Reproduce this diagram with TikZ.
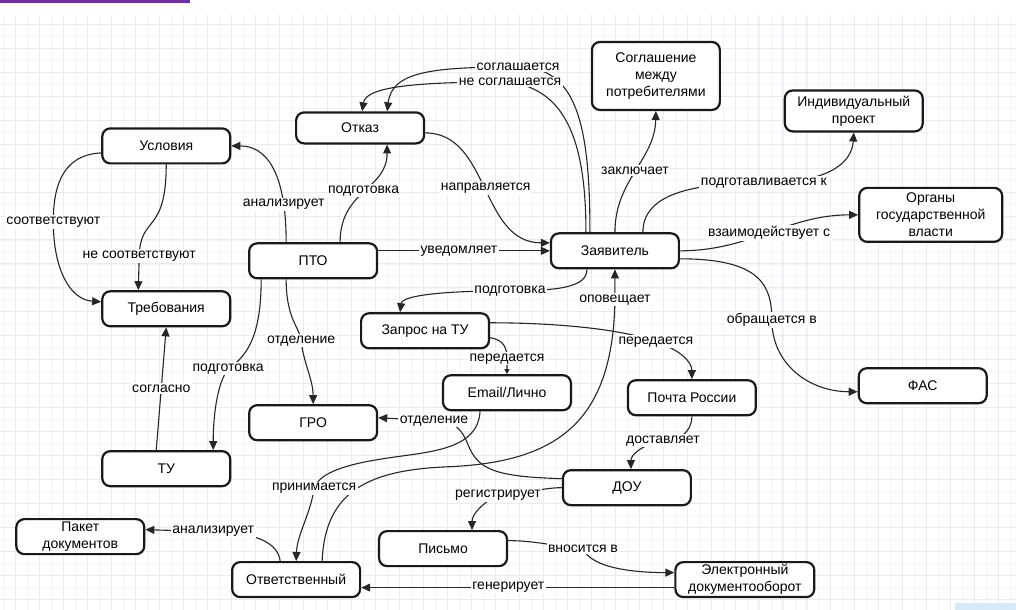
\documentclass[tikz,border=0pt]{standalone}
\usepackage{fontspec}
\setmainfont{Liberation Sans}
\usetikzlibrary{arrows.meta}
\definecolor{barviolet}{HTML}{7030A0}
\definecolor{cornerblue}{HTML}{D6EAF8}
\definecolor{gridfine}{HTML}{F5F5F8}
\definecolor{gridmain}{HTML}{EAEAF0}

\begin{document}
\begin{tikzpicture}[x=1pt,y=-1pt,
  every node/.style={font=\fontsize{14}{17}\selectfont},
  box/.style={draw=black!90,line width=2.2pt,rounded corners=8pt,fill=white,minimum width=128pt,minimum height=35pt,align=center,inner sep=2pt},
  lbl/.style={fill=white,inner sep=1.5pt},
  link/.style={draw=black!85,line width=1.1pt,-{Triangle[length=9pt,width=8pt]}},
  gridl/.style={draw=gridfine,line width=0.6pt},
  gridm/.style={draw=gridmain,line width=0.7pt}]
\fill[white] (0,0) rectangle (1016,610);
\foreach \x in {3,15,...,1011} \draw[gridl] (\x,15) -- (\x,610);
\foreach \y in {24,36,...,600} \draw[gridl] (0,\y) -- (1016,\y);
\foreach \x in {15,39,...,1011} \draw[gridm] (\x,15) -- (\x,610);
\foreach \y in {24,48,...,600} \draw[gridm] (0,\y) -- (1016,\y);
\fill[barviolet] (0,0) rectangle (190,3);
\fill[cornerblue] (955,603) rectangle (1016,610);
\useasboundingbox (0,0) rectangle (1016,610);

\node[box] (usl) at (166,146) {Условия};
\node[box] (treb) at (166,309) {Требования};
\node[box] (tu) at (166,469) {ТУ};
\node[box,minimum height=31pt] (otk) at (360,128) {Отказ};
\node[box] (pto) at (313,261) {ПТО};
\node[box] (gro) at (313,423) {ГРО};
\node[box] (pak) at (80,537) {Пакет\\документов};
\node[box] (otv) at (296,580) {Ответственный};
\node[box] (zap) at (425,331) {Запрос на ТУ};
\node[box] (em) at (507,393) {Email/Лично};
\node[box] (pochta) at (692,398) {Почта России};
\node[box] (dou) at (627,488) {ДОУ};
\node[box] (pis) at (443,549) {Письмо};
\node[box,minimum width=139pt] (edo) at (745,580) {Электронный\\документооборот};
\node[box] (fas) at (923,386) {ФАС};
\node[box] (zay) at (615,251) {Заявитель};
\node[box,minimum height=68pt] (sogl) at (656,76) {Соглашение\\между\\потребителями};
\node[box,minimum width=138pt,minimum height=41pt] (ind) at (854,111) {Индивидуальный\\проект};
\node[box,minimum width=143pt,minimum height=54pt] (org) at (931,215) {Органы\\государственной\\власти};

\draw[link] ([xshift=-27pt]pto.north) .. controls (286,170) and (265,146) .. (usl.east) node[lbl,pos=0.2] {анализирует};
\draw[link] ([xshift=27pt]pto.north) .. controls (340,190) and (387,190) .. ([xshift=27pt]otk.south) node[lbl,pos=0.5] {подготовка};
\draw[link] ([yshift=-5pt]otk.east) .. controls (490,133) and (480,243) .. ([yshift=8pt]zay.west) node[lbl,pos=0.5] {направляется};
\draw[link] (pto.east |- zay.west) -- (zay.west) node[lbl,pos=0.47] {уведомляет};
\draw[link] ([xshift=-25pt]zay.north) .. controls (590,120) and (575,67) .. (518,67) node[lbl] {соглашается} .. controls (430,67) and (392,72) .. ([xshift=27pt]otk.north);
\draw[link] ([xshift=-29pt]zay.north) .. controls (586,130) and (560,90) .. (510,82) node[lbl] {не соглашается} .. controls (420,82) and (366,86) .. ([xshift=2pt]otk.north);
\draw[link] (zay.north) .. controls (615,180) and (655,160) .. (sogl.south) node[lbl,pos=0.5] {заключает};
\draw[link] ([xshift=28pt]zay.north) .. controls (643,195) and (690,183) .. (764,183) node[lbl] {подготавливается к} .. controls (825,183) and (852,165) .. (ind.south);
\draw[link] (zay.east) to[out=0,in=180] node[lbl] {взаимодействует с} (org.west);
\draw[link] ([yshift=-8pt]zay.east) .. controls (760,259) and (772,285) .. (772,320) node[lbl] {обращается в} .. controls (772,365) and (810,392) .. ([yshift=-6pt]fas.west);
\draw[link] ([xshift=-28pt]zay.south) .. controls (587,287) and (560,291) .. (510,291) node[lbl] {подготовка} .. controls (440,291) and (402,296) .. ([xshift=-25pt]zap.north);
\draw[link] ([xshift=26pt]otv.north) .. controls (325,490) and (370,470) .. (450,467) .. controls (560,462) and (613,420) .. (615,300) node[lbl] {оповещает} -- (zay.south);
\draw[link] ([xshift=-27pt]em.south) .. controls (478,450) and (430,452) .. (390,458) .. controls (340,465) and (318,475) .. (314,489) node[lbl] {принимается} .. controls (310,515) and (297,535) .. (otv.north);
\draw[link] ([yshift=9pt]dou.west) .. controls (495,477) and (478,470) .. (468,445) .. controls (462,430) and (455,421) .. (434,421) node[lbl] {отделение} -- ([yshift=5pt]gro.east);
\draw[link] (dou.west) .. controls (540,488) and (520,496) .. (498,496) node[lbl] {регистрирует} .. controls (482,503) and (472,515) .. ([xshift=29pt]pis.north);
\draw[link] (pochta.south) .. controls (692,432) and (680,441) .. (663,441) node[lbl] {доставляет} .. controls (642,445) and (631,455) .. ([xshift=4pt]dou.north);
\draw[link,-{Triangle[length=5pt,width=5pt]}] ([yshift=-7pt]zap.east) .. controls (505,340) and (507,350) .. (507,359) node[lbl] {передается} -- (em.north);
\draw[link] ([yshift=8pt]zap.east) .. controls (560,323) and (625,330) .. (656,342) node[lbl] {передается} .. controls (680,350) and (692,362) .. (pochta.north);
\draw[link] ([yshift=8pt]pis.east) .. controls (540,541) and (565,549) .. (583,549) node[lbl] {вносится в} .. controls (592,570) and (640,573) .. ([yshift=7pt]edo.west);
\draw[link] ([yshift=-8pt]edo.west) -- ([yshift=-8pt]otv.east) node[lbl,pos=0.53] {генерирует};
\draw[link] ([xshift=-16pt]otv.north) .. controls (278,545) and (260,533) .. (213,532) node[lbl] {анализирует} -- ([yshift=7pt]pak.east);
\draw[link] ([xshift=-27pt]pto.south) .. controls (286,320) and (300,328) .. (301,341) node[lbl] {отделение} .. controls (303,362) and (313,380) .. (gro.north);
\draw[link] ([xshift=-52pt]pto.south) .. controls (261,330) and (250,355) .. (228,369) node[lbl] {подготовка} .. controls (216,385) and (213,420) .. ([xshift=47pt]tu.north);
\draw[link] ([xshift=-10pt]tu.north) -- (treb.south) node[lbl,pos=0.5] {согласно};
\draw[link] ([yshift=-7pt]usl.west) .. controls (60,155) and (53,190) .. (53,222) node[lbl] {соответствуют} .. controls (53,270) and (70,300) .. ([yshift=7pt]treb.west);
\draw[link] (usl.south) .. controls (166,235) and (140,215) .. (139,256) node[lbl] {не соответствуют} -- ([xshift=-28pt]treb.north);
\end{tikzpicture}
\end{document}
